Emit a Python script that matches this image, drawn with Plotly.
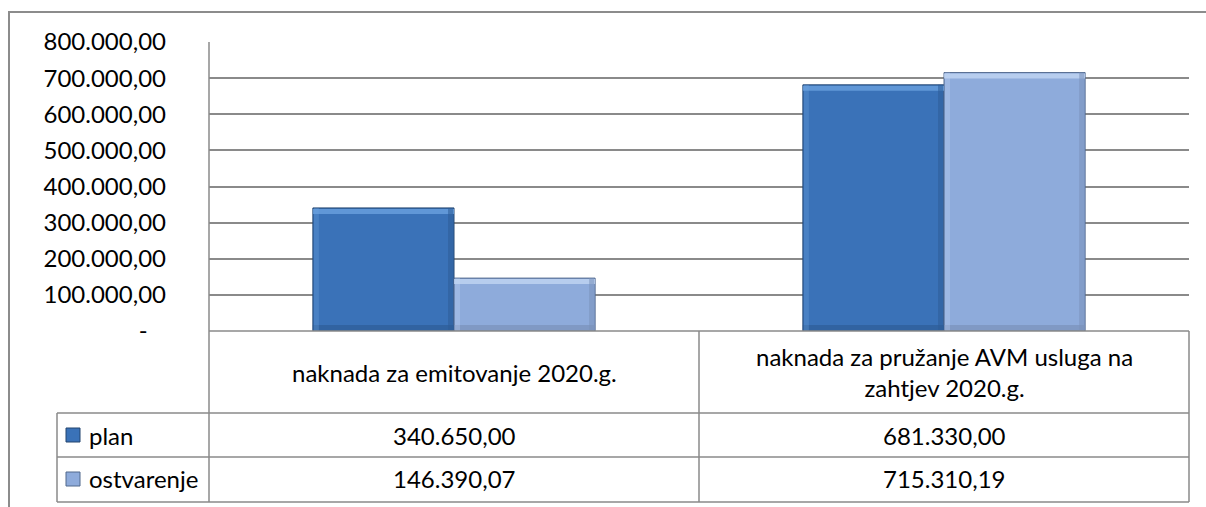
import plotly.graph_objects as go

categories = ["naknada za emitovanje 2020.g.", "naknada za pružanje AVM usluga na<br>zahtjev 2020.g."]
series_names = ["plan", "ostvarenje"]
plan = [340650.00, 681330.00]
ostvarenje = [146390.07, 715310.19]
y_ticks = [0, 100000, 200000, 300000, 400000, 500000, 600000, 700000, 800000]

W, H = 1206, 507
L, R, T, B = 209, 17, 42, 176
PW, PH = W - L - R, H - T - B
FONT = "Lato"
FS = 24
GRID = "#8a8a8a"

def px(x):
    return (x - L) / PW

def py(y):
    return (H - B - y) / PH

def fmt(v):
    s = f"{v:,.2f}"
    return s.replace(",", "X").replace(".", ",").replace("X", ".")

ticktext = [fmt(v) if v != 0 else "-\u00a0\u00a0\u00a0" for v in y_ticks]

colors = {"plan": "#3a72b8", "ostvarenje": "#8eabdb"}
edge = {"plan": "#22446f", "ostvarenje": "#51688c"}
light = {"plan": "#6ea4e2", "ostvarenje": "#c4d8f4"}
dark = {"plan": "#2d5c97", "ostvarenje": "#7a92ba"}

BARGAP = 0.424
fig = go.Figure()
for name, vals in zip(series_names, [plan, ostvarenje]):
    fig.add_trace(go.Bar(
        x=[0, 1], y=vals, name=name,
        marker=dict(color=colors[name], line=dict(color=edge[name], width=1)),
        showlegend=False,
    ))

# bevel effect strips derived from bar geometry
bw = (1 - BARGAP) / 2
shapes = []
for k, (name, vals) in enumerate(zip(series_names, [plan, ostvarenje])):
    for i, v in enumerate(vals):
        x0 = i - (1 - BARGAP) / 2 + k * bw
        x1 = x0 + bw
        shapes.append(dict(type="rect", xref="x", yref="y", x0=x0, x1=x1,
                           ysizemode="pixel", yanchor=v, y0=-6, y1=-1,
                           fillcolor=light[name], line=dict(width=0), layer="above", opacity=0.75))
        shapes.append(dict(type="rect", xref="x", yref="y", x0=x0, x1=x1,
                           ysizemode="pixel", yanchor=0, y0=1, y1=6,
                           fillcolor=dark[name], line=dict(width=0), layer="above", opacity=0.7))
        shapes.append(dict(type="rect", xref="x", yref="y", y0=0, y1=v,
                           xsizemode="pixel", xanchor=x0, x0=1, x1=6,
                           fillcolor=light[name], line=dict(width=0), layer="above", opacity=0.3))
        shapes.append(dict(type="rect", xref="x", yref="y", y0=0, y1=v,
                           xsizemode="pixel", xanchor=x1, x0=-6, x1=-1,
                           fillcolor=dark[name], line=dict(width=0), layer="above", opacity=0.55))

def line(x0, y0, x1, y1, color=GRID, w=1.5):
    shapes.append(dict(type="line", xref="paper", yref="paper",
                       x0=px(x0), y0=py(y0), x1=px(x1), y1=py(y1),
                       line=dict(color=color, width=w), layer="above"))

# outer chart border
shapes.append(dict(type="rect", xref="paper", yref="paper",
                   x0=px(9), y0=py(12), x1=px(1215), y1=py(520),
                   line=dict(color="#8c8c8c", width=2), fillcolor="rgba(0,0,0,0)", layer="below"))

# data table lines
line(209, 331, 1189, 331)
line(57, 413, 1189, 413)
line(57, 457, 1189, 457)
line(57, 502, 1189, 502)
line(57, 413, 57, 502)
line(209, 42, 209, 502)
line(699, 331, 699, 502)
line(1189, 331, 1189, 502)

# legend keys
for name, yc in zip(series_names, [435, 479]):
    shapes.append(dict(type="rect", xref="paper", yref="paper",
                       x0=px(66), x1=px(80), y0=py(yc - 7), y1=py(yc + 7),
                       fillcolor=colors[name], line=dict(color=edge[name], width=1), layer="above"))

annotations = []
for i, c in enumerate(categories):
    annotations.append(dict(x=i, xref="x", y=py(372), yref="paper", text=c,
                            showarrow=False, font=dict(family=FONT, size=FS, color="#000"),
                            align="center", xanchor="center", yanchor="middle"))
for name, vals, yc in zip(series_names, [plan, ostvarenje], [435, 479]):
    annotations.append(dict(x=px(87), xref="paper", y=py(yc), yref="paper", text=name,
                            showarrow=False, font=dict(family=FONT, size=FS, color="#000"),
                            xanchor="left", yanchor="middle"))
    for i, v in enumerate(vals):
        annotations.append(dict(x=i, xref="x", y=py(yc), yref="paper", text=fmt(v),
                                showarrow=False, font=dict(family=FONT, size=FS, color="#000"),
                                xanchor="center", yanchor="middle"))

fig.update_layout(
    width=W, height=H,
    margin=dict(l=L, r=R, t=T, b=B, pad=0),
    paper_bgcolor="white", plot_bgcolor="white",
    barmode="group", bargap=BARGAP, bargroupgap=0,
    font=dict(family=FONT, size=FS, color="#000"),
    shapes=shapes, annotations=annotations,
    xaxis=dict(range=[-0.5, 1.5], showticklabels=False, showgrid=False,
               zeroline=False, showline=False, ticks=""),
    yaxis=dict(range=[0, 800000], tickvals=y_ticks, ticktext=ticktext,
               showgrid=True, gridcolor=GRID, gridwidth=1.5, zeroline=False,
               showline=False, ticks="", ticklabelstandoff=42,
               tickfont=dict(family=FONT, size=FS, color="#000")),
)

fig.write_html("out.html")
